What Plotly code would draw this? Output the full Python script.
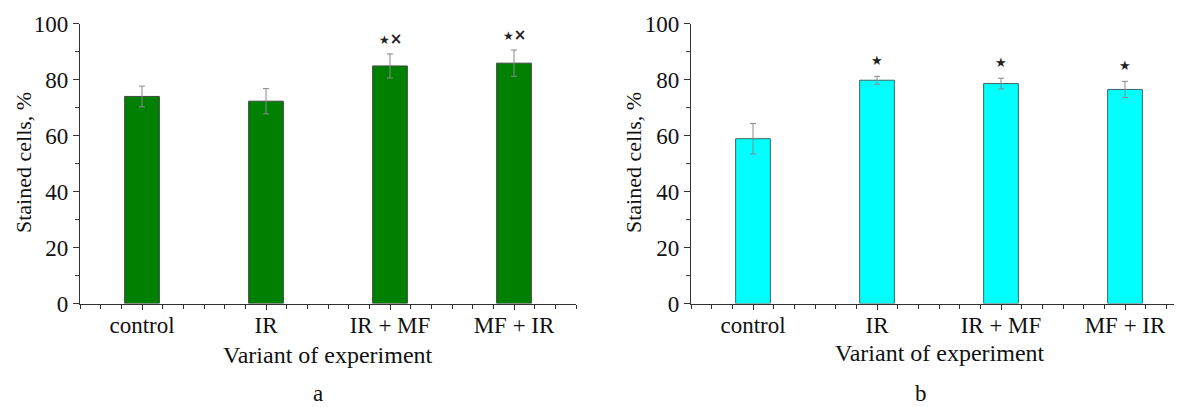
import plotly.graph_objects as go

categories = ["control", "IR", "IR + MF", "MF + IR"]
x_pos = [1, 2, 3, 4]

# Panel a
values_a = [74.0, 72.3, 84.9, 85.9]
errors_a = [3.7, 4.5, 4.3, 4.7]
marks_a = ["", "", "*×", "*×"]

# Panel b
values_b = [58.9, 79.8, 78.6, 76.5]
errors_b = [5.4, 1.4, 1.9, 2.9]
marks_b = ["", "*", "*", "*"]

y_ticks = [0, 20, 40, 60, 80, 100]

FONT = "Liberation Serif, Times New Roman, serif"
FS = 23
OFF = 8  # page body margin
W, H = 1182 - OFF, 407 - OFF


def px(xpix):
    return (xpix - OFF) / W


def py(ypix):
    return (H - (ypix - OFF)) / H


fig = go.Figure()

fig.add_trace(go.Bar(
    x=x_pos, y=values_a, width=0.28,
    marker=dict(color="#008000", line=dict(color="#3f4a3f", width=1)),
    error_y=dict(type="data", array=errors_a, color="#8a8a8a", thickness=1, width=3),
    xaxis="x", yaxis="y", showlegend=False,
))
fig.add_trace(go.Bar(
    x=x_pos, y=values_b, width=0.28,
    marker=dict(color="#00FFFF", line=dict(color="#3f6464", width=1)),
    error_y=dict(type="data", array=errors_b, color="#8a8a8a", thickness=1, width=3),
    xaxis="x2", yaxis="y2", showlegend=False,
))

ydom = [py(303.5), py(23.7)]
xdom_a = [px(80), px(576)]
xdom_b = [px(691), 1.0]

common_x = dict(
    tickmode="array", tickvals=x_pos, ticktext=categories,
    showline=True, linecolor="#333333", linewidth=1.3,
    ticks="outside", ticklen=5, tickcolor="#333333", tickwidth=1.2,
    minor=dict(tickmode="linear", tick0=0.5, dtick=1 / 6, ticks="outside",
               ticklen=4, tickcolor="#333333", tickwidth=1.2),
    showgrid=False, zeroline=False, automargin=False,
    ticklabelstandoff=-4,
    tickfont=dict(family=FONT, size=FS, color="#111111"),
    fixedrange=True,
)
common_y = dict(
    range=[0, 100], tickmode="array", tickvals=y_ticks,
    showline=True, linecolor="#333333", linewidth=1.3,
    ticks="outside", ticklen=6, tickcolor="#333333", tickwidth=1.2,
    minor=dict(tickmode="linear", tick0=0, dtick=10, ticks="outside",
               ticklen=4, tickcolor="#333333", tickwidth=1.2),
    showgrid=False, zeroline=False, automargin=False,
    tickfont=dict(family=FONT, size=FS, color="#111111"),
    fixedrange=True,
)

fig.update_layout(
    width=W, height=H,
    margin=dict(l=0, r=0, t=0, b=0, pad=0, autoexpand=False),
    paper_bgcolor="white", plot_bgcolor="white",
    xaxis=dict(domain=xdom_a, range=[0.5, 4.5], anchor="y", **common_x),
    yaxis=dict(domain=ydom, anchor="x", **common_y),
    xaxis2=dict(domain=xdom_b, range=[0.5, 0.5 + (1182 - 691) / 124.0], anchor="y2", **common_x),
    yaxis2=dict(domain=ydom, anchor="x2", **common_y),
)

ann = []
# significance marks
for xa, v, e, m in zip(x_pos, values_a, errors_a, marks_a):
    if m:
        ann.append(dict(x=xa, y=v + e + 5.5, xref="x", yref="y", showarrow=False,
                        xanchor="center", yanchor="middle",
                        text='<span style="font-size:12px">★</span><b>×</b>',
                        font=dict(family="DejaVu Sans", size=15, color="#222222")))
for xb, v, e, m in zip(x_pos, values_b, errors_b, marks_b):
    if m:
        ann.append(dict(x=xb, y=v + e + 5.8, xref="x2", yref="y2", showarrow=False,
                        xanchor="center", yanchor="middle",
                        text="★", font=dict(family="DejaVu Sans", size=13, color="#222222")))

# axis titles & panel labels
for cx, cy, cyx in [(328, 355, 23), (940, 353, 633)]:
    ann.append(dict(x=px(cx), y=py(cy), xref="paper", yref="paper", showarrow=False,
                    xanchor="center", yanchor="middle",
                    text="Variant of experiment", font=dict(family=FONT, size=24, color="#111111")))
    ann.append(dict(x=px(cyx), y=py(163), xref="paper", yref="paper", showarrow=False,
                    xanchor="center", yanchor="middle",
                    text="Stained cells, %", textangle=-90,
                    font=dict(family=FONT, size=22, color="#111111")))
ann.append(dict(x=px(318), y=0, xref="paper", yref="paper", showarrow=False,
                xanchor="center", yanchor="bottom", borderpad=0,
                text="a", font=dict(family=FONT, size=23, color="#111111")))
ann.append(dict(x=px(921), y=0, xref="paper", yref="paper", showarrow=False,
                xanchor="center", yanchor="bottom", borderpad=0,
                text="b", font=dict(family=FONT, size=23, color="#111111")))

fig.update_layout(annotations=ann)

fig.write_html("out.html")
